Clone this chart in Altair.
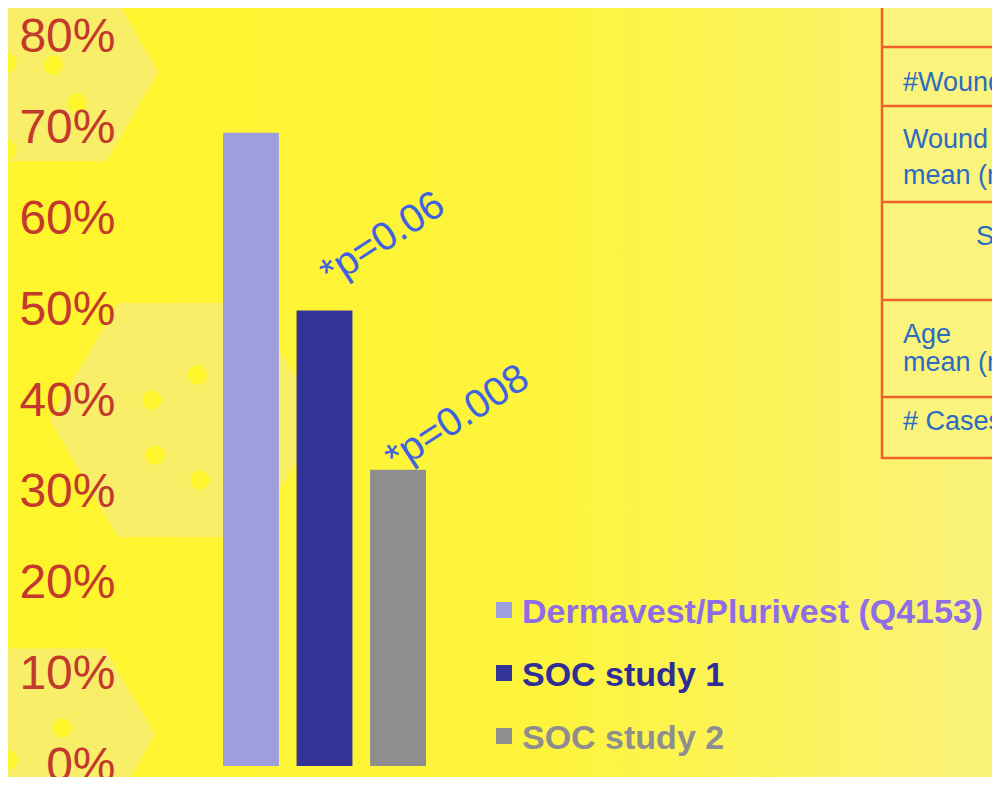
import altair as alt
import pandas as pd

# ---- data ----
groups = ["Dermavest/Plurivest (Q4153)", "SOC study 1", "SOC study 2"]
values = [0.695, 0.50, 0.325]
p_labels = ["", "*p=0.06", "*p=0.008"]
tick_values = [0, 0.1, 0.2, 0.3, 0.4, 0.5, 0.6, 0.7, 0.8]
bar_colors = ["#9E9EDE", "#343398", "#8E8E8E"]
legend_text_colors = ["#8E6DE6", "#2E2E96", "#8E8E8E"]
legend_rows = [0, 1, 2]
table_rule_rows = [10, 69, 165, 263, 360, 421]  # decorative table fragment (pixels)
table_texts = [
    ("#Wounds", 778, 54),
    ("Wound size", 778, 111),
    ("mean (median)", 778, 147),
    ("Sex", 851, 208),
    ("Age", 778, 306),
    ("mean (median)", 778, 334),
    ("# Cases", 778, 393),
]

W, H = 867, 729
FONT = "Liberation Sans"

bars_df = pd.DataFrame({"group": groups, "value": values, "plabel": p_labels})
leg_df = pd.DataFrame({"group": groups, "row": legend_rows})
one = pd.DataFrame({"a": [0]})

yscale = alt.Scale(domain=[0, 0.8], nice=False, zero=True)
xscale = alt.Scale(domain=groups, range=[98, 301], paddingInner=0.24, paddingOuter=0)

# background gradient
bg = alt.Chart(one).mark_rect(
    color=alt.LinearGradient(
        gradient="linear",
        stops=[alt.GradientStop(color="#FFF52C", offset=0),
               alt.GradientStop(color="#FEF43C", offset=0.55),
               alt.GradientStop(color="#FAF27A", offset=1)],
        x1=0, x2=1, y1=0, y2=0)
).encode(x=alt.value(-117), x2=alt.value(W), y=alt.value(-29), y2=alt.value(H + 11))

hex_path = "M -1 0 L -0.5 -0.866 L 0.5 -0.866 L 1 0 L 0.5 0.866 L -0.5 0.866 Z"

def hexagon(cx, cy, r):
    return alt.Chart(one).mark_point(
        shape=hex_path, filled=True, color="#F8EE68", opacity=1, strokeWidth=0
    ).encode(x=alt.value(cx - 125), y=alt.value(cy - 37), size=alt.value((2 * r) ** 2))

def dot(cx, cy):
    return alt.Chart(one).mark_circle(color="#FFF52C", opacity=1, size=380).encode(
        x=alt.value(cx - 125), y=alt.value(cy - 37))

hexes = [hexagon(55, 72, 103), hexagon(185, 420, 135), hexagon(55, 735, 100)]
dots = [dot(7, 63), dot(53, 65), dot(77, 103), dot(7, 150),
        dot(152, 400), dot(197, 375), dot(155, 455), dot(200, 480),
        dot(62, 728), dot(8, 760)]

bars = alt.Chart(bars_df).mark_bar().encode(
    x=alt.X("group:N", scale=xscale, axis=None),
    y=alt.Y("value:Q", scale=yscale,
            axis=alt.Axis(values=tick_values, format=".0%", orient="left",
                          labelFontSize=48, labelColor="#C4392D", labelFont=FONT,
                          domain=False, ticks=False, grid=False, labelPadding=10,
                          title=None, labelOverlap=False, zindex=2)),
    color=alt.Color("group:N", scale=alt.Scale(domain=groups, range=bar_colors), legend=None),
)

def pnote(idx, dx, dy):
    return alt.Chart(bars_df.iloc[[idx]]).mark_text(
        align="left", baseline="alphabetic", angle=327, fontSize=40,
        font=FONT, color="#3F63E0", dx=dx, dy=dy
    ).encode(
        x=alt.X("group:N", scale=xscale, axis=None),
        y=alt.Y("value:Q", scale=yscale, axis=None),
        text="plabel:N",
    )

note1 = pnote(1, 18, -16)
note2 = pnote(2, 2, 4.5)

leg_y = alt.Y("row:Q", scale=alt.Scale(domain=[0, 2], range=[573, 699]), axis=None)
leg_sq = alt.Chart(leg_df).mark_square(size=256, opacity=1).encode(
    x=alt.value(379), y=leg_y,
    color=alt.Color("group:N", scale=alt.Scale(domain=groups, range=bar_colors), legend=None),
)
leg_tx = alt.Chart(leg_df).mark_text(
    align="left", baseline="alphabetic", dy=13, fontSize=34, fontWeight="bold", font=FONT
).encode(
    x=alt.value(397), y=leg_y, text="group:N",
    color=alt.Color("group:N", scale=alt.Scale(domain=groups, range=legend_text_colors), legend=None),
)

# decorative table fragment on the right
tbl_fill = alt.Chart(one).mark_rect(color="#FAF37C").encode(
    x=alt.value(757), x2=alt.value(W), y=alt.value(-29), y2=alt.value(421))
tbl_v = alt.Chart(one).mark_rule(color="#F0602A", strokeWidth=2.5).encode(
    x=alt.value(757), y=alt.value(-29), y2=alt.value(422))
tbl_h = [alt.Chart(one).mark_rule(color="#F0602A", strokeWidth=2.5).encode(
    x=alt.value(757), x2=alt.value(W), y=alt.value(r)) for r in table_rule_rows]
tbl_t = [alt.Chart(one).mark_text(
    align="left", baseline="alphabetic", fontSize=27, font=FONT, color="#2A6CC0", text=t
).encode(x=alt.value(x), y=alt.value(y)) for (t, x, y) in table_texts]

chart = alt.layer(
    bg, *hexes, *dots, tbl_fill, tbl_v, *tbl_h, *tbl_t, bars, note1, note2, leg_sq, leg_tx
).resolve_scale(
    x="independent", y="independent", color="independent"
).properties(
    width=W, height=H,
    autosize=alt.AutoSizeParams(type="none"),
    padding={"left": 117, "top": 29, "right": 0, "bottom": 11},
    background="#FFF52C",
).configure_view(stroke=None)

chart.save("out.html", embed_options={"renderer": "svg", "actions": False})
